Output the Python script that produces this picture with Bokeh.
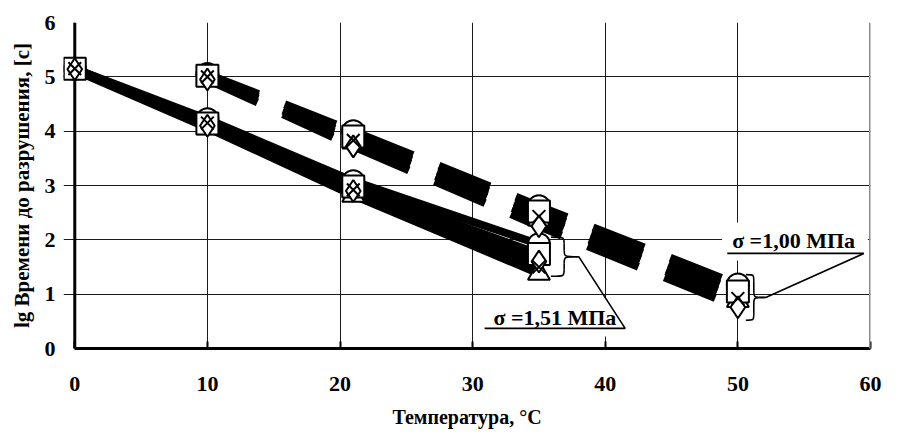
from bokeh.plotting import figure
from bokeh.models import Range1d, FixedTicker, Span
from bokeh.embed import file_html
from bokeh.resources import INLINE
from bokeh.core.properties import value

# ---------------- data ----------------
x_ticks = [0, 10, 20, 30, 40, 50, 60]
y_ticks = [0, 1, 2, 3, 4, 5, 6]

# sigma = 1.51 MPa (solid lines)
temps_a = [0, 10, 21, 35]
a_circle = [5.15, 4.22, 3.08, 1.92]
a_square = [5.15, 4.14, 2.98, 1.74]
a_diamond = [5.14, 4.10, 2.90, 1.60]
a_x = [5.15, 4.15, 2.92, 1.50]
a_triangle = [5.12, 4.06, 2.82, 1.38]

# sigma = 1.00 MPa (dashed lines)
temps_b = [10, 21, 35, 50]
b_circle = [5.05, 4.00, 2.62, 1.18]
b_square = [5.02, 3.90, 2.52, 1.05]
b_x = [5.00, 3.83, 2.43, 0.92]
b_triangle = [5.00, 3.80, 2.38, 0.88]
b_diamond = [4.95, 3.72, 2.25, 0.76]

marker_types = ["circle", "triangle", "square", "diamond", "x"]
series_a = [a_circle, a_triangle, a_square, a_diamond, a_x]
series_b = [b_circle, b_triangle, b_square, b_diamond, b_x]

label_a = "σ =1,51 МПа"
label_b = "σ =1,00 МПа"

FONT = "Liberation Serif"
X_MIN, X_MAX = 0, 60

p = figure(width=882, height=430, output_backend="svg", toolbar_location=None,
           x_range=Range1d(-0.85, X_MAX), y_range=Range1d(0, 6),
           min_border_left=63, min_border_right=12, min_border_top=22, min_border_bottom=80)
p.outline_line_color = None
p.background_fill_color = "white"
p.border_fill_color = "white"

for ax in (p.xaxis[0], p.yaxis[0]):
    ax.axis_line_width = 3
    ax.axis_line_color = "black"
    ax.major_tick_in = 7
    ax.major_tick_out = 0
    ax.major_tick_line_width = 2
    ax.major_tick_line_color = "black"
    ax.minor_tick_line_color = None
    ax.major_label_text_font = FONT
    ax.major_label_text_font_style = "bold"
    ax.major_label_text_font_size = "22px"
    ax.major_label_text_color = "black"
    ax.axis_label_text_font = FONT
    ax.axis_label_text_font_style = "bold"
    ax.axis_label_text_color = "black"

# the y axis line is drawn at x = 0 (span below), so that markers at x = 0 are not clipped
p.yaxis.axis_line_color = None
p.yaxis.major_tick_line_color = None
p.xaxis.bounds = (X_MIN, X_MAX)
p.xaxis.ticker = FixedTicker(ticks=x_ticks)
p.yaxis.ticker = FixedTicker(ticks=y_ticks)
p.xaxis.major_label_standoff = 28
p.yaxis.major_label_standoff = 8
p.xaxis.axis_label = "Температура, °C"
p.xaxis.axis_label_text_font_size = "20px"
p.xaxis.axis_label_standoff = 12
p.yaxis.axis_label = "lg Времени до разрушения, [с]"
p.yaxis.axis_label_text_font_size = "21px"
p.yaxis.axis_label_standoff = 8

for g in (p.xgrid[0], p.ygrid[0]):
    g.grid_line_color = "#1a1a1a"
    g.grid_line_width = 1
p.xgrid.ticker = FixedTicker(ticks=x_ticks)
p.ygrid.ticker = FixedTicker(ticks=y_ticks)
p.ygrid.bounds = (X_MIN, X_MAX)

p.add_layout(Span(location=X_MIN, dimension="height", line_color="black", line_width=3, level="underlay"))
p.add_layout(Span(location=X_MAX, dimension="height", line_color="#8c8c8c", line_width=3))

# white boxes behind the labels (cover grid lines)
box_a = dict(left=30.7, right=41.6, bottom=0.22, top=0.92)
box_b = dict(left=48.8, right=59.8, bottom=1.62, top=2.32)
for b in (box_a, box_b):
    p.quad(left=[b["left"]], right=[b["right"]], bottom=[b["bottom"]], top=[b["top"]],
           fill_color="white", line_color=None)

# lines
for ys in series_a:
    p.line(temps_a, ys, line_color="black", line_width=8)
for ys in series_b:
    p.line(temps_b, ys, line_color="black", line_width=8, line_dash="55 28")

# markers
for mk, ys in zip(marker_types, series_a):
    p.scatter(temps_a, ys, marker=mk, size=18 if mk == "x" else 22,
              fill_color="white", line_color="black", line_width=2)
for mk, ys in zip(marker_types, series_b):
    p.scatter(temps_b, ys, marker=mk, size=18 if mk == "x" else 22,
              fill_color="white", line_color="black", line_width=2)


def brace(L, S, T, top, bot, r):
    mid = (top + bot) / 2.0
    x0 = [L, S, T, S]
    y0 = [top, mid + r, mid, bot + r]
    x1 = [S, T, S, L]
    y1 = [top - r, mid, mid - r, bot]
    cx0 = [S, S, S, S]
    cy0 = [top, mid, mid, bot]
    cx1 = [S, S, S, S]
    cy1 = [top, mid, mid, bot]
    p.bezier(x0=x0, y0=y0, x1=x1, y1=y1, cx0=cx0, cy0=cy0, cx1=cx1, cy1=cy1,
             line_color="black", line_width=1.6)
    p.segment(x0=[S, S], y0=[top - r, mid - r], x1=[S, S], y1=[mid + r, bot + r],
              line_color="black", line_width=1.6)
    return mid


mid_a = brace(35.9, 36.9, 38.0, 2.05, 1.33, 0.12)
mid_b = brace(50.6, 51.2, 52.1, 1.36, 0.52, 0.12)

# leader lines + underline
p.line([38.0, 41.5, 30.9], [mid_a, 0.37, 0.37], line_color="black", line_width=1.6)
p.line([52.1, 59.5, 49.2], [mid_b, 1.75, 1.75], line_color="black", line_width=1.6)

p.text(x=[36.2, 54.2], y=[0.57, 1.99], text=[label_a, label_b],
       text_font=value(FONT), text_font_style="bold", text_font_size="22px",
       text_align="center", text_baseline="middle", text_color="black")

open("out.html", "w").write(file_html(p, INLINE))
